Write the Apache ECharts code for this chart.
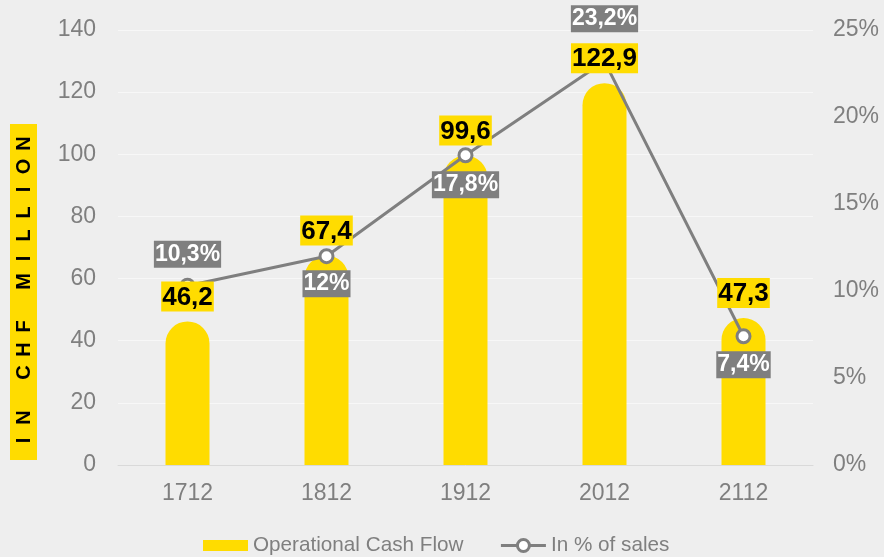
<!DOCTYPE html>
<html>
<head>
<meta charset="utf-8">
<script src="https://cdn.jsdelivr.net/npm/echarts@6/dist/echarts.min.js"></script>
<style>
html,body{margin:0;padding:0;background:#eeeeee;}
#chart{width:884px;height:557px;}
</style>
</head>
<body>
<div id="chart"></div>
<script>
var categories = ['1712', '1812', '1912', '2012', '2112'];
var cashFlow = [46.2, 67.4, 99.6, 122.9, 47.3];
var pctSales = [10.3, 12, 17.8, 23.2, 7.4];
var leftTicks = [0, 20, 40, 60, 80, 100, 120, 140];
var rightTicks = [0, 5, 10, 15, 20, 25];
var seriesNames = ['Operational Cash Flow', 'In % of sales'];
var axisTitle = 'IN CHF MILLION';

var FONT = 'Liberation Sans, Arial, sans-serif';
var YELLOW = '#FFDC00';
var GRAY = '#7f7f7f';

// label placement styling for the line series
var lineLabelPos = ['top', 'bottom', 'bottom', 'top', 'bottom'];
var lineLabelDist = [10, 6, 8, 21, 7];

function comma(v) { return String(v).replace('.', ','); }

// letter-spaced title built as rich text (each letter in a fixed-width cell)
var titleRich = axisTitle.split(' ').map(function (w) {
  return w.split('').map(function (c) { return '{l|' + c + '}'; }).join('');
}).join('{g|}');

var chart = echarts.init(document.getElementById('chart'), null, {renderer: 'canvas'});
chart.setOption({
  backgroundColor: '#eeeeee',
  animation: false,
  textStyle: {fontFamily: FONT},
  grid: {left: 118, right: 71, top: 30, bottom: 92, containLabel: false},
  legend: {
    left: 198,
    top: 530,
    padding: 5,
    itemGap: 36,
    itemWidth: 45,
    itemHeight: 15,
    textStyle: {color: GRAY, fontSize: 20.7, fontFamily: FONT},
    data: [
      {name: seriesNames[0], icon: 'path://M0,0L0.01,0M0,2L45,2L45,13L0,13ZM0,15L0.01,15'},
      {name: seriesNames[1], itemStyle: {color: '#ffffff', borderColor: GRAY, borderWidth: 3},
        lineStyle: {color: GRAY, width: 3}}
    ]
  },
  xAxis: {
    type: 'category',
    data: categories,
    axisLine: {lineStyle: {color: '#d9d9d9', width: 1}},
    axisTick: {show: false},
    axisLabel: {color: GRAY, fontSize: 23, margin: 17, fontFamily: FONT}
  },
  yAxis: [
    {
      type: 'value',
      min: leftTicks[0],
      max: leftTicks[leftTicks.length - 1],
      interval: leftTicks[1] - leftTicks[0],
      axisLine: {show: false},
      axisTick: {show: false},
      splitLine: {lineStyle: {color: '#f7f7f7', width: 1}},
      axisLabel: {color: GRAY, fontSize: 23, margin: 22, fontFamily: FONT}
    },
    {
      type: 'value',
      min: rightTicks[0],
      max: rightTicks[rightTicks.length - 1],
      interval: rightTicks[1] - rightTicks[0],
      axisLine: {show: false},
      axisTick: {show: false},
      splitLine: {show: false},
      axisLabel: {color: GRAY, fontSize: 23, margin: 20, fontFamily: FONT,
        formatter: function (v) { return v + '%'; }}
    }
  ],
  graphic: [{
    type: 'text',
    x: 23.5,
    y: 292,
    rotation: Math.PI / 2,
    z: 10,
    style: {
      text: titleRich,
      fill: '#000',
      align: 'center',
      verticalAlign: 'middle',
      backgroundColor: YELLOW,
      padding: [4, 8, 3, 8],
      rich: {
        l: {width: 23, align: 'center', fontSize: 20, fontWeight: 'bold', fontFamily: FONT, fill: '#000', lineHeight: 20},
        g: {width: 22, fontSize: 20, lineHeight: 20}
      }
    }
  }],
  series: [
    {
      name: seriesNames[0],
      type: 'bar',
      data: cashFlow,
      yAxisIndex: 0,
      barWidth: 44,
      z: 2,
      itemStyle: {color: YELLOW, borderRadius: [22, 22, 0, 0]},
      label: {show: false}
    },
    {
      name: seriesNames[1],
      type: 'line',
      yAxisIndex: 1,
      z: 3,
      data: pctSales.map(function (v, i) {
        return {value: v, label: {position: lineLabelPos[i], distance: lineLabelDist[i]}};
      }),
      lineStyle: {color: GRAY, width: 3},
      itemStyle: {color: '#ffffff', borderColor: GRAY, borderWidth: 3},
      symbol: 'circle',
      symbolSize: 13,
      label: {
        show: true,
        color: '#ffffff',
        fontWeight: 'bold',
        fontSize: 23,
        fontFamily: FONT,
        backgroundColor: GRAY,
        padding: [2, 1, 2, 1],
        formatter: function (p) { return comma(p.value) + '%'; }
      }
    },
    {
      // value labels of the bars, drawn above the line
      name: seriesNames[0] + ' labels',
      type: 'bar',
      data: cashFlow,
      yAxisIndex: 0,
      barWidth: 44,
      barGap: '-100%',
      z: 5,
      silent: true,
      itemStyle: {color: 'rgba(0,0,0,0)'},
      label: {
        show: true,
        position: 'top',
        distance: 10,
        color: '#000',
        fontWeight: 'bold',
        fontSize: 26,
        fontFamily: FONT,
        backgroundColor: YELLOW,
        padding: [3, 1, 1, 1],
        formatter: function (p) { return comma(p.value); }
      }
    }
  ]
});
</script>
</body>
</html>
